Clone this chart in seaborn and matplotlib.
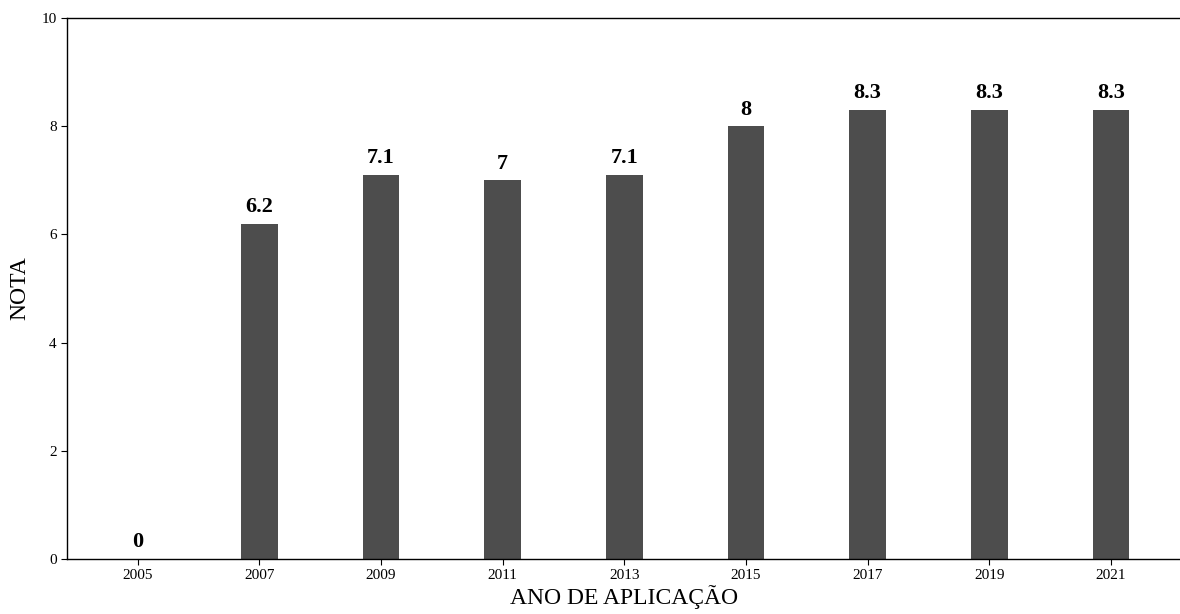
import matplotlib.pyplot as plt
import pandas as pd
import seaborn as sns

# data
anos = ['2005', '2007', '2009', '2011', '2013', '2015', '2017', '2019', '2021']
notas = [0, 6.2, 7.1, 7.0, 7.1, 8.0, 8.3, 8.3, 8.3]

df = pd.DataFrame({'ano': anos, 'nota': notas})

sns.set_style('white')
plt.rcParams['font.family'] = ['Liberation Serif', 'DejaVu Serif']
plt.rcParams['text.color'] = 'black'
plt.rcParams['axes.labelcolor'] = 'black'
plt.rcParams['xtick.color'] = 'black'
plt.rcParams['ytick.color'] = 'black'

fig = plt.figure(figsize=(11.8, 6.14), dpi=100)
ax = fig.add_axes([0.0568, 0.0896, 0.9445, 0.8811])

sns.barplot(data=df, x='ano', y='nota', color='#4d4d4d', saturation=1,
            width=0.3, linewidth=0, ax=ax)

# value labels on top of each bar
for i, v in enumerate(notas):
    ax.text(i, v + 0.12, f'{v:g}', ha='center', va='bottom',
            fontsize=16, fontweight='bold')

ax.set_xlim(-0.58, 8.58)
ax.set_ylim(0, 10)
ax.set_xlabel('ANO DE APLICAÇÃO', fontsize=17, labelpad=2)
ax.set_ylabel('NOTA', fontsize=17, labelpad=8)
ax.tick_params(axis='both', labelsize=11, length=4, left=True, bottom=True)
for s in ax.spines.values():
    s.set_color('black')
    s.set_linewidth(1.0)

fig.savefig('out.png', dpi=100)
